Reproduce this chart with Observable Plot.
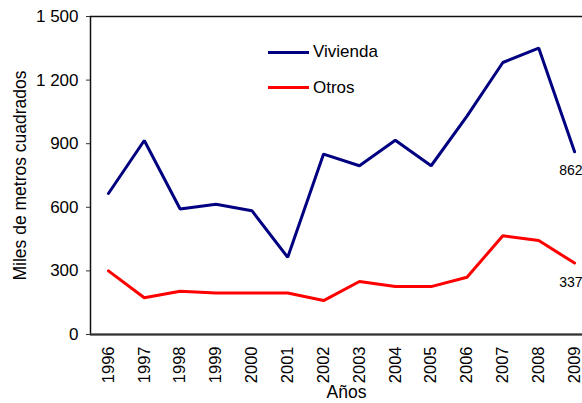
<!DOCTYPE html>
<html>
<head>
<meta charset="utf-8">
<script src="https://cdn.jsdelivr.net/npm/d3@7"></script>
<script src="https://cdn.jsdelivr.net/npm/@observablehq/plot@0.6"></script>
<style>
  html, body { margin: 0; padding: 0; background: #fff; overflow: hidden; }
  #wrap { position: relative; width: 582px; height: 403px; overflow: hidden; font-family: "Liberation Sans", Arial, sans-serif; }
  #wrap svg { max-width: none !important; }
  .leg { position: absolute; left: 268px; display: flex; align-items: center; height: 20px; font-size: 17px; color: #000; }
  .leg .key { width: 41px; height: 3px; margin-right: 4px; }
</style>
</head>
<body>
<div id="wrap"></div>
<script>
const years = [1996,1997,1998,1999,2000,2001,2002,2003,2004,2005,2006,2007,2008,2009];
const vivienda = [665,915,592,614,584,364,851,796,916,796,1030,1283,1351,862];
const otros = [300,173,204,196,196,196,160,250,226,226,270,466,443,337];
const seriesNames = ["Vivienda","Otros"];
const seriesColors = ["#000080","#ff0000"];
const yTicks = [0,300,600,900,1200,1500];

const rows = [];
years.forEach((y,i) => {
  rows.push({year: String(y), value: vivienda[i], serie: seriesNames[0]});
  rows.push({year: String(y), value: otros[i], serie: seriesNames[1]});
});
const last = rows.filter(d => d.year === String(years[years.length-1]));
const fmt = d => d3.format(",")(d).replace(/,/g, " ");

const chart = Plot.plot({
  width: 592,
  height: 403,
  marginLeft: 90,
  marginRight: 0,
  marginTop: 16,
  marginBottom: 69,
  style: {fontFamily: "'Liberation Sans', Arial, sans-serif", fontSize: "17px", color: "#000", background: "#fff"},
  x: {type: "point", domain: years.map(String), padding: 0.5, round: false},
  y: {domain: [0,1500]},
  color: {domain: seriesNames, range: seriesColors},
  marks: [
    Plot.frame({stroke: "#111", strokeWidth: 1.5}),
    Plot.ruleY([0], {stroke: "#333", strokeWidth: 2}),
    Plot.axisY({ticks: yTicks, tickFormat: fmt, tickSize: 4, tickPadding: 8, label: null, stroke: "#333"}),
    Plot.axisX({tickRotate: -90, tickSize: 0, tickPadding: 12, label: null, fontSize: 16.5}),
    Plot.line(rows, {x: "year", y: "value", z: "serie", stroke: "serie", strokeWidth: 3, strokeLinejoin: "miter"}),
    Plot.text(last, {x: "year", y: "value", text: d => fmt(d.value), textAnchor: "end", dx: 8, dy: 19, fontSize: 14}),
    Plot.text(["Miles de metros cuadrados"], {frameAnchor: "left", textAnchor: "middle", dx: -70, rotate: -90, fontSize: 17.5}),
    Plot.text(["Años"], {frameAnchor: "bottom", dx: 5, dy: 63, fontSize: 17.5})
  ]
});
const wrap = document.getElementById("wrap");
wrap.appendChild(chart);

seriesNames.forEach((name, i) => {
  const row = document.createElement("div");
  row.className = "leg";
  row.style.top = (42 + i * 35.5) + "px";
  const key = document.createElement("div");
  key.className = "key";
  key.style.background = seriesColors[i];
  const label = document.createElement("span");
  label.textContent = name;
  row.appendChild(key);
  row.appendChild(label);
  wrap.appendChild(row);
});
</script>
</body>
</html>
